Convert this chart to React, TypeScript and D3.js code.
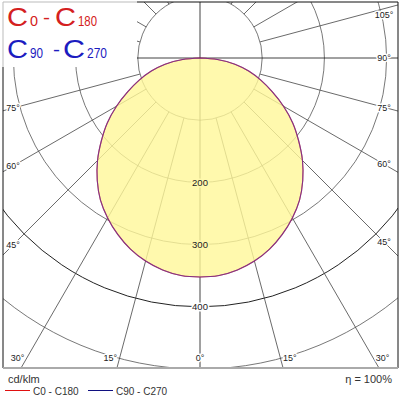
import React from 'react';
import * as d3 from 'd3';

// luminous intensity, cd/klm, every 5° from nadir
const gammaAngles = [0, 5, 10, 15, 20, 25, 30, 35, 40, 45, 50, 55, 60, 65, 70, 75, 80, 85, 90];
const c0c180 = [352, 351, 346, 338, 327, 313, 297, 279, 257, 233, 207, 182, 155, 128, 104, 81, 57, 28, 0];
const c90c270 = [352, 351, 346, 338, 327, 313, 297, 279, 257, 233, 207, 182, 155, 128, 104, 81, 57, 28, 0];

const ringValues = [100, 200, 300, 400, 500];
const ringLabels = [200, 300, 400];
const radialAngles = [0, 15, 30, 45, 60, 75, 90, 105, 120, 135, 150, 165, 180];
const rightAngleLabels = [45, 60, 75, 90, 105];
const leftAngleLabels = [45, 60, 75];
const bottomAngleLabels = [0, 15, 30];
const seriesNames = ['C0 - C180', 'C90 - C270'];
const seriesColors = ['#d42020', '#1c1cc0'];

const FONT = '"Liberation Sans", Arial, sans-serif';
const cx = 200;
const cy = 58;
const frame = { x0: 3, y0: 2, x1: 398, y1: 368 };
const fillColor = '#fff799';
const fillBehind = '#fff9ad';

const rad = (deg: number) => (deg * Math.PI) / 180;

function App() {
  const r = d3.scaleLinear().domain([0, 500]).range([0, 311]);

  const toPoints = (vals: number[]) => {
    const left = gammaAngles
      .map((g, i) => ({ a: Math.PI + rad(g), v: vals[i] }))
      .reverse();
    const right = gammaAngles.map((g, i) => ({ a: Math.PI - rad(g), v: vals[i] }));
    return left.concat(right.slice(1));
  };

  const line = d3
    .lineRadial<{ a: number; v: number }>()
    .angle((d) => d.a)
    .radius((d) => r(d.v))
    .curve(d3.curveCatmullRom);

  const path0 = line(toPoints(c0c180)) || '';
  const path1 = line(toPoints(c90c270)) || '';

  const radials: { x1: number; y1: number; x2: number; y2: number; main: boolean }[] = [];
  radialAngles.forEach((g) => {
    [-1, 1].forEach((s) => {
      if ((g === 0 || g === 180) && s === -1) return;
      const r0 = g % 90 === 0 ? 0 : r(100);
      const dx = s * Math.sin(rad(g));
      const dy = Math.cos(rad(g));
      radials.push({
        x1: cx + r0 * dx,
        y1: cy + r0 * dy,
        x2: cx + 700 * dx,
        y2: cy + 700 * dy,
        main: g % 90 === 0,
      });
    });
  });

  const sideLabel = (g: number, s: number) => {
    const x = s > 0 ? 384 : 13;
    const t = Math.abs(x - cx) / Math.sin(rad(g));
    let y = cy + t * Math.cos(rad(g));
    y = Math.max(y, frame.y0 + 13);
    return { x, y };
  };

  const bottomY = 358;
  const halo = (c: string) => ({
    stroke: c,
    strokeWidth: 3,
    paintOrder: 'stroke' as const,
    strokeLinejoin: 'round' as const,
  });

  const labelStyle = { fontFamily: FONT, fontSize: 9, fill: '#222' };

  return (
    <svg
      width={400}
      height={400}
      style={{ position: 'fixed', left: 0, top: 0, background: '#fff' }}
    >
      <defs>
        <clipPath id="plotClip">
          <rect x={frame.x0} y={frame.y0} width={frame.x1 - frame.x0} height={frame.y1 - frame.y0} />
        </clipPath>
      </defs>

      <g clipPath="url(#plotClip)">
        {ringValues.map((v) => (
          <circle
            key={v}
            cx={cx}
            cy={cy}
            r={r(v)}
            fill="none"
            stroke={v === 400 ? '#222' : '#555'}
            strokeWidth={v === 400 ? 1 : 0.8}
          />
        ))}
        {radials.map((l, i) => (
          <line
            key={i}
            x1={l.x1}
            y1={l.y1}
            x2={l.x2}
            y2={l.y2}
            stroke={l.main ? '#111' : '#444'}
            strokeWidth={0.8}
          />
        ))}

        <g transform={`translate(${cx},${cy})`}>
          <path d={path0} fill={fillColor} fillOpacity={0.8} stroke="none" />
          <path d={path0} fill="none" stroke={seriesColors[0]} strokeWidth={1.1} />
          <path d={path1} fill="none" stroke="#4040d8" strokeWidth={1.1} strokeOpacity={0.55} />
        </g>

        {ringLabels.map((v) => (
          <text
            key={v}
            x={cx}
            y={cy + r(v) + 3.4}
            textAnchor="middle"
            style={{ ...labelStyle, fontSize: 9.5, ...halo(v === 400 ? '#fff' : fillBehind) }}
          >
            {v}
          </text>
        ))}

        {rightAngleLabels.map((g) => {
          const p = sideLabel(g, 1);
          return (
            <text key={'r' + g} x={p.x} y={p.y + 3.2} textAnchor="middle" style={{ ...labelStyle, ...halo('#fff') }}>
              {g}°
            </text>
          );
        })}
        {leftAngleLabels.map((g) => {
          const p = sideLabel(g, -1);
          return (
            <text key={'l' + g} x={p.x} y={p.y + 3.2} textAnchor="middle" style={{ ...labelStyle, ...halo('#fff') }}>
              {g}°
            </text>
          );
        })}
        {bottomAngleLabels.map((g) =>
          (g === 0 ? [1] : [-1, 1]).map((s) => {
            const xl = cx + s * (bottomY - cy) * Math.tan(rad(g));
            const anchor = g === 0 ? 'middle' : s < 0 ? 'end' : 'start';
            const x = g === 0 ? xl : xl + s * 2.5;
            return (
              <text
                key={'b' + g + s}
                x={x}
                y={bottomY + 3.2}
                textAnchor={anchor}
                style={{ ...labelStyle, ...halo('#fff') }}
              >
                {g}°
              </text>
            );
          })
        )}
      </g>

      {/* title box */}
      <rect x={frame.x0} y={frame.y0} width={134} height={65} fill="#fff" />
      <text style={{ fontFamily: FONT }} fill={seriesColors[0]}>
        <tspan x={7} y={26} fontSize={25} textLength={21} lengthAdjust="spacingAndGlyphs">C</tspan>
        <tspan x={30} y={26} fontSize={14} textLength={8} lengthAdjust="spacingAndGlyphs">0</tspan>
        <tspan x={43} y={24} fontSize={18} textLength={7} lengthAdjust="spacingAndGlyphs">-</tspan>
        <tspan x={55} y={26} fontSize={25} textLength={21} lengthAdjust="spacingAndGlyphs">C</tspan>
        <tspan x={78} y={26} fontSize={14} textLength={19} lengthAdjust="spacingAndGlyphs">180</tspan>
      </text>
      <text style={{ fontFamily: FONT }} fill={seriesColors[1]}>
        <tspan x={7} y={58} fontSize={25} textLength={21} lengthAdjust="spacingAndGlyphs">C</tspan>
        <tspan x={30} y={58} fontSize={14} textLength={13} lengthAdjust="spacingAndGlyphs">90</tspan>
        <tspan x={53} y={56} fontSize={18} textLength={7} lengthAdjust="spacingAndGlyphs">-</tspan>
        <tspan x={63} y={58} fontSize={25} textLength={22} lengthAdjust="spacingAndGlyphs">C</tspan>
        <tspan x={87} y={58} fontSize={14} textLength={20} lengthAdjust="spacingAndGlyphs">270</tspan>
      </text>

      {/* frame */}
      <line x1={frame.x0} y1={frame.y0} x2={frame.x0 + 134} y2={frame.y0} stroke="#bbb" strokeWidth={1} />
      <line x1={frame.x0 + 134} y1={frame.y0} x2={frame.x1} y2={frame.y0} stroke="#111" strokeWidth={1} />
      <line x1={frame.x0} y1={frame.y0} x2={frame.x0} y2={frame.y0 + 65} stroke="#bbb" strokeWidth={1} />
      <line x1={frame.x0} y1={frame.y0 + 65} x2={frame.x0} y2={frame.y1} stroke="#111" strokeWidth={1} />
      <line x1={frame.x1} y1={frame.y0} x2={frame.x1} y2={frame.y1} stroke="#111" strokeWidth={1} />
      <line x1={frame.x0} y1={frame.y1} x2={frame.x1} y2={frame.y1} stroke="#aaa" strokeWidth={2} />

      {/* footer */}
      <text x={8} y={383} style={{ fontFamily: FONT, fontSize: 11, fill: '#333' }}>
        cd/klm
      </text>
      {seriesNames.map((name, i) => (
        <g key={name} transform={`translate(${5 + i * 83},0)`}>
          <line x1={0} y1={390.5} x2={25} y2={390.5} stroke={i === 0 ? '#e01010' : '#101080'} strokeWidth={1} />
          <text x={28} y={395} style={{ fontFamily: FONT, fontSize: 10, fill: '#333' }}>
            {name}
          </text>
        </g>
      ))}
      <text x={392} y={383} textAnchor="end" style={{ fontFamily: FONT, fontSize: 11, fill: '#333' }}>
        η = 100%
      </text>
    </svg>
  );
}

export default App;
